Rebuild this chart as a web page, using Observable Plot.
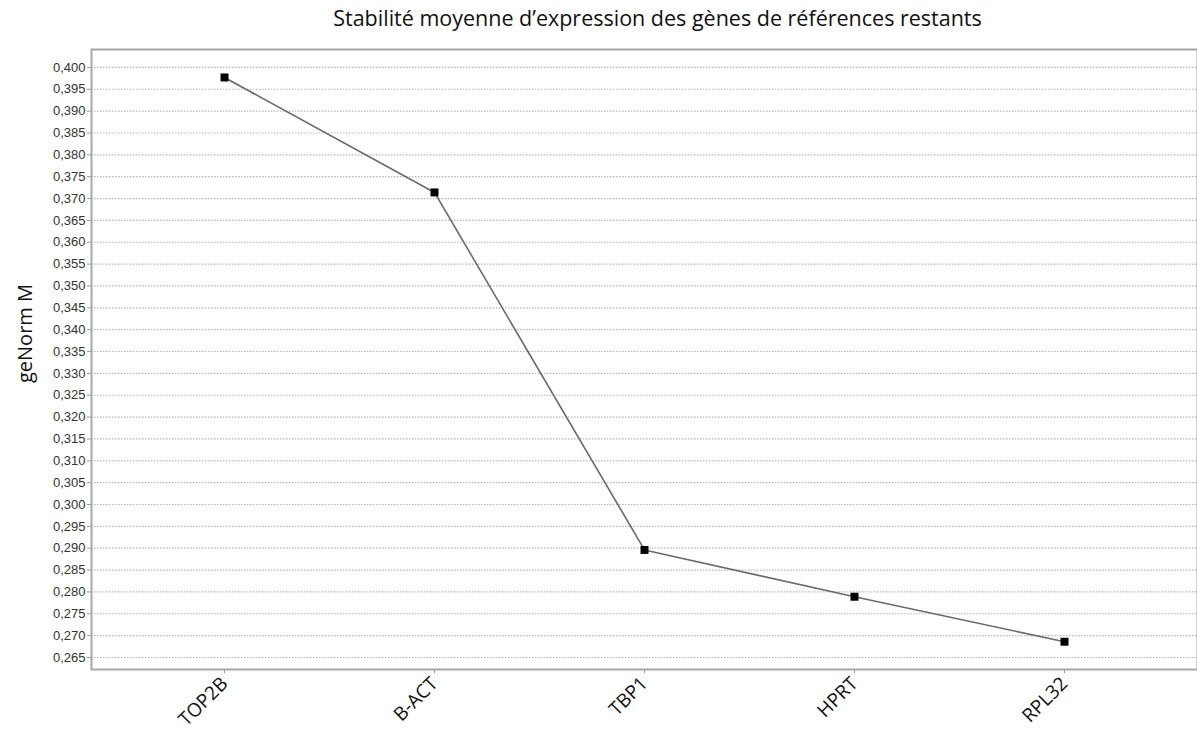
<!DOCTYPE html>
<html>
<head>
<meta charset="utf-8">
<script src="https://cdn.jsdelivr.net/npm/d3@7"></script>
<script src="https://cdn.jsdelivr.net/npm/@observablehq/plot@0.6"></script>
<style>
  body { margin: 0; background: #fff; }
  #title { height: 36px; line-height: 36px; font-family: "Open Sans", sans-serif; font-size: 21.5px; color: #111; text-align: center; padding-left: 118px; white-space: nowrap; }
</style>
</head>
<body>
<div id="title">Stabilité moyenne d’expression des gènes de références restants</div>
<div id="chart"></div>
<script>
const genes = ["TOP2B", "B-ACT", "TBP1", "HPRT", "RPL32"];
const geNormM = [0.3977, 0.3714, 0.2896, 0.2789, 0.2686];
const yTicks = [0.265, 0.270, 0.275, 0.280, 0.285, 0.290, 0.295, 0.300, 0.305, 0.310, 0.315, 0.320, 0.325, 0.330, 0.335, 0.340, 0.345, 0.350, 0.355, 0.360, 0.365, 0.370, 0.375, 0.380, 0.385, 0.390, 0.395, 0.400];
const yLabel = "geNorm M";

const data = genes.map((g, i) => ({gene: g, m: geNormM[i]}));
const fmt = v => d3.format(".3f")(v).replace(".", ",");

const chart = Plot.plot({
  width: 1197,
  height: 697,
  marginLeft: 91,
  marginRight: 0,
  marginTop: 13,
  marginBottom: 64,
  style: {fontFamily: "'Liberation Sans', Arial, sans-serif", background: "#fff"},
  x: {type: "point", domain: genes, padding: 0.627},
  y: {domain: [0.26225, 0.4041]},
  marks: [
    Plot.gridY(yTicks, {stroke: "#b5b5b5", strokeOpacity: 1, strokeDasharray: "1.5,1.5", strokeWidth: 1.2}),
    Plot.axisY(yTicks, {tickFormat: fmt, tickSize: 4, tickPadding: 2, fontSize: 13, color: "#333", stroke: "#999", label: null}),
    Plot.axisX({tickRotate: -45, tickSize: 4, tickPadding: 7, fontSize: 19, fontFamily: "'Open Sans', sans-serif", color: "#111", stroke: "#999", label: null}),
    Plot.frame({stroke: "#a8a8a8", strokeWidth: 2}),
    Plot.line(data, {x: "gene", y: "m", stroke: "#6a6a6a", strokeWidth: 1.6}),
    Plot.dot(data, {x: "gene", y: "m", symbol: "square", r: 4.5, fill: "#000", stroke: "none"}),
    Plot.text([yLabel], {frameAnchor: "left", textAnchor: "middle", rotate: -90, dx: -66, dy: -26, fontSize: 20, fontFamily: "'Open Sans', sans-serif", fill: "#111"})
  ]
});
document.getElementById("chart").appendChild(chart);
</script>
</body>
</html>
